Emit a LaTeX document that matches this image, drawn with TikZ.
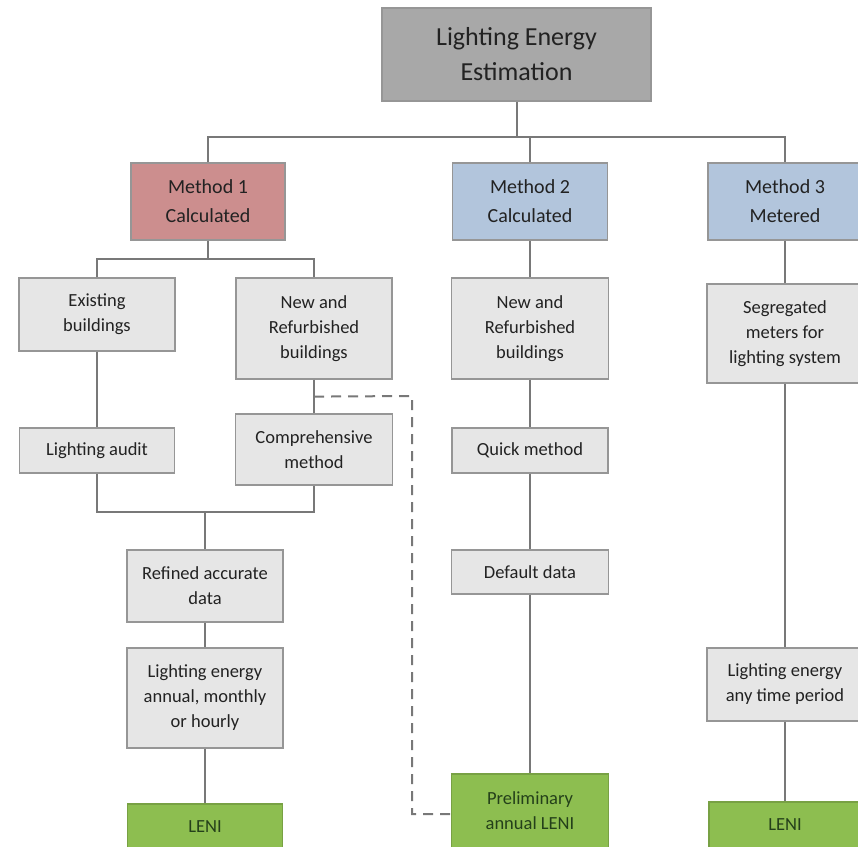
\documentclass[tikz,border=0pt]{standalone}
\usepackage{fontspec}
\setmainfont{Carlito}
\usetikzlibrary{calc}
\definecolor{topgray}{RGB}{168,168,168}
\definecolor{mredfill}{RGB}{204,142,142}
\definecolor{mbluefill}{RGB}{178,197,220}
\definecolor{boxfill}{RGB}{230,230,230}
\definecolor{boxline}{RGB}{150,150,150}
\definecolor{greenfill}{RGB}{141,190,80}
\definecolor{linecol}{RGB}{120,120,120}
\definecolor{txt}{RGB}{34,34,34}
\definecolor{greentxt}{RGB}{36,64,26}
\begin{document}
\begin{tikzpicture}[x=1pt,y=-1pt,
  base/.style={rectangle,draw=boxline,line width=1.2pt,align=center,inner sep=0pt,text=txt},
  topbox/.style={base,fill=topgray,font=\fontsize{26}{35}\selectfont},
  mbox/.style={base,font=\fontsize{20}{29}\selectfont},
  gbox/.style={base,fill=boxfill,font=\fontsize{18.5}{25}\selectfont},
  lbox/.style={base,fill=greenfill,text=greentxt,draw=greenfill!85!black,font=\fontsize{18.5}{25}\selectfont},
  conn/.style={draw=linecol,line width=2pt},
  dsh/.style={draw=linecol,line width=2pt,dash pattern=on 10pt off 7pt}]
\useasboundingbox (0,0) rectangle (858,846);
% top
\node[topbox,minimum width=269,minimum height=93] (top) at (516.5,54.5) {Lighting Energy\\Estimation};
% methods
\node[mbox,fill=mredfill,minimum width=154,minimum height=77] (m1) at (208,201.5) {Method 1\\Calculated};
\node[mbox,fill=mbluefill,minimum width=155,minimum height=77] (m2) at (530,201.5) {Method 2\\Calculated};
\node[mbox,fill=mbluefill,minimum width=154,minimum height=77] (m3) at (785,201.5) {Method 3\\Metered};
% column 1
\node[gbox,minimum width=156,minimum height=73] (ex) at (97,314.5) {Existing\\buildings};
\node[gbox,minimum width=156,minimum height=101] (nr1) at (314,328.5) {New and\\Refurbished\\buildings};
\node[gbox,minimum width=155,minimum height=45] (audit) at (97,450.5) {Lighting audit};
\node[gbox,minimum width=157,minimum height=71] (comp) at (314,449.5) {Comprehensive\\method};
\node[gbox,minimum width=156,minimum height=72] (refined) at (205,586) {Refined accurate\\data};
\node[gbox,minimum width=156,minimum height=100] (en1) at (205,698) {Lighting energy\\annual, monthly\\or hourly};
\node[lbox,minimum width=155,minimum height=46] (leni1) at (205,827) {LENI};
% column 2
\node[gbox,minimum width=157,minimum height=101] (nr2) at (530,328.5) {New and\\Refurbished\\buildings};
\node[gbox,minimum width=156,minimum height=45] (quick) at (530,450.5) {Quick method};
\node[gbox,minimum width=157,minimum height=44] (default) at (530,572) {Default data};
\node[lbox,minimum width=157,minimum height=74] (prelim) at (530,811) {Preliminary\\annual LENI};
% column 3
\node[gbox,minimum width=156,minimum height=99] (seg) at (785,333.5) {Segregated\\meters for\\lighting system};
\node[gbox,minimum width=156,minimum height=73] (en3) at (785,684.5) {Lighting energy\\any time period};
\node[lbox,minimum width=152,minimum height=46] (leni3) at (785,825) {LENI};
% connectors
\draw[conn] (top.south) -- ++(0,35) coordinate (bar);
\draw[conn] (m1.north) |- (bar) -| (m3.north);
\draw[conn] (m2.north) -- (m2.north |- bar);
\draw[conn] (m1.south) -- ++(0,18) coordinate (b1);
\draw[conn] (ex.north) |- (b1) -| (nr1.north);
\draw[conn] (ex.south) -- (audit.north);
\draw[conn] (nr1.south) -- (comp.north);
\draw[conn] (audit.south) -- ++(0,38) coordinate (mg) -| (comp.south);
\draw[conn] (refined.north) -- (refined.north |- mg);
\draw[conn] (refined.south) -- (en1.north);
\draw[conn] (en1.south) -- (leni1.north);
\draw[conn] (m2.south) -- (nr2.north);
\draw[conn] (nr2.south) -- (quick.north);
\draw[conn] (quick.south) -- (default.north);
\draw[conn] (default.south) -- (prelim.north);
\draw[conn] (m3.south) -- (seg.north);
\draw[conn] (seg.south) -- (en3.north);
\draw[conn] (en3.south) -- (leni3.north);
% dashed link
\coordinate (dstart) at ($(nr1.south)+(0,17)$);
\coordinate (dcorner) at (412,396);
\draw[dsh] (dstart) -- (dcorner) |- ([yshift=-3pt]prelim.west);
\end{tikzpicture}
\end{document}
